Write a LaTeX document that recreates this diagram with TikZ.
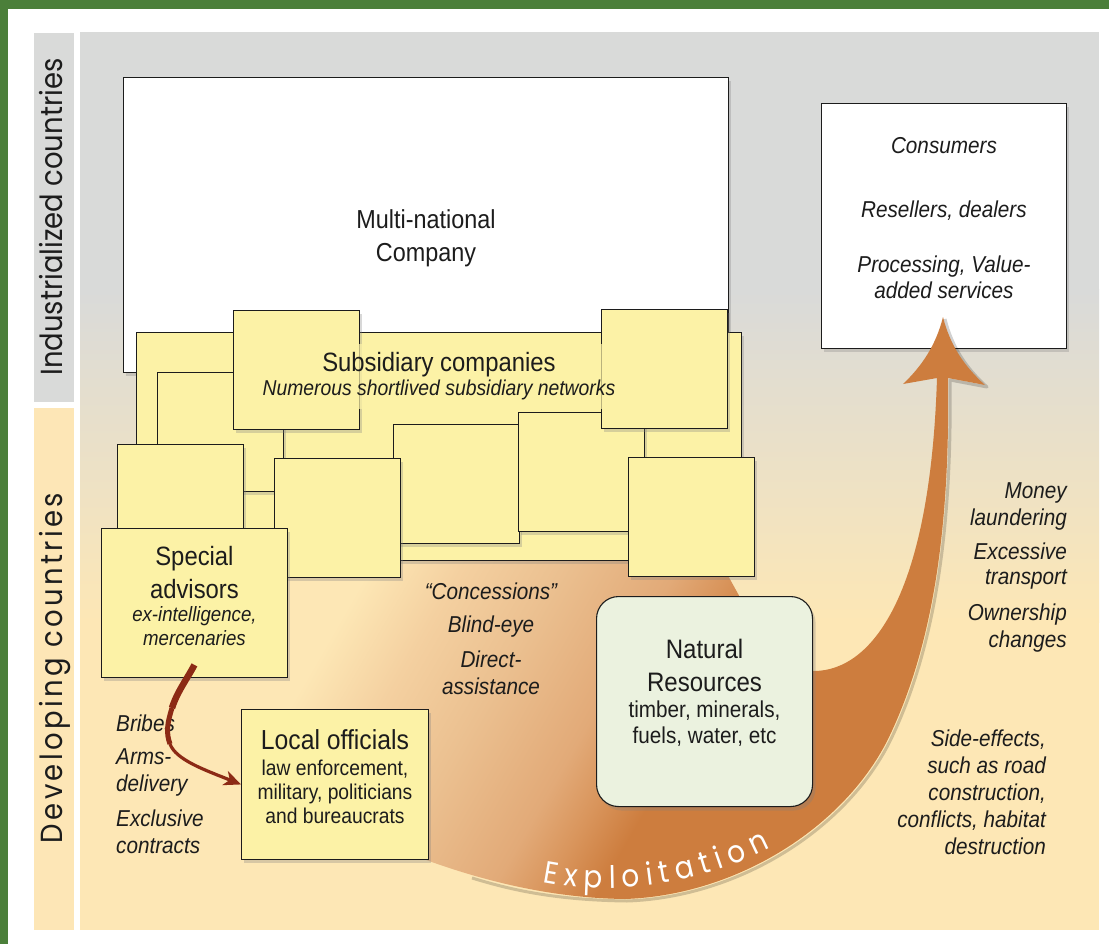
\documentclass[tikz,border=0pt]{standalone}
\usepackage{fontspec}
\setmainfont{Liberation Sans}[FakeStretch=0.9]
\newfontfamily\bandfont{Poppins}[FakeStretch=0.9]
\newfontfamily\bandfontspaced{Poppins}[FakeStretch=0.9,LetterSpace=11]
\usetikzlibrary{arrows.meta, shadows, decorations.text}
\definecolor{FrameGreen}{HTML}{4B7F3A}
\definecolor{Mist}{HTML}{D9DAD9}
\definecolor{Sand}{HTML}{FDE7B5}
\definecolor{BandSand}{HTML}{FDE6B6}
\definecolor{Straw}{HTML}{FCF2A6}
\definecolor{Mint}{HTML}{EBF2DF}
\definecolor{Copper}{HTML}{CD7D3E}
\definecolor{PeachA}{HTML}{F4D0A0}
\definecolor{PeachB}{HTML}{EBC090}
\definecolor{PeachC}{HTML}{E2AA78}
\definecolor{PeachD}{HTML}{D9955C}
\definecolor{Oxblood}{HTML}{8C2A15}
\definecolor{Ink}{HTML}{1C1C1C}
\pgfdeclarehorizontalshading{exploitfade}{100bp}{color(0bp)=(Sand); color(32bp)=(Sand); color(38bp)=(PeachA); color(44.5bp)=(PeachB); color(52bp)=(PeachC); color(55.5bp)=(PeachD); color(59bp)=(Copper); color(100bp)=(Copper)}
\begin{document}
\begin{tikzpicture}[x=1pt,y=-1pt,every node/.style={text=Ink},companybox/.style={draw=Ink,fill=white,line width=0.9pt,anchor=north west,drop shadow={shadow xshift=3pt,shadow yshift=-4pt,opacity=.3}},subbox/.style={companybox,fill=Straw},cellbox/.style={subbox,minimum width=126pt,minimum height=119pt},resourcebox/.style={companybox,fill=Mint,rounded corners=22pt,line width=1.1pt},boxtext/.style={align=center,inner sep=0pt},notetext/.style={font=\itshape\fontsize{23}{27}\selectfont,inner sep=0pt},bandtext/.style={rotate=90,anchor=base,inner sep=0pt},bribearrow/.style={draw=Oxblood},swooshshadow/.style={draw=black,opacity=.18,line width=3pt,line join=round,xshift=2pt,yshift=-2pt}]
\useasboundingbox (0,0) rectangle (1109,944);
\fill[white] (0,0) rectangle (1109,944);
\fill[FrameGreen] (0,0) rectangle (1109,9);
\fill[FrameGreen] (0,0) rectangle (8,944);
% side bands
\fill[Mist] (34,33) rectangle (74,402);
\fill[BandSand] (34,408) rectangle (74,930);
\node[bandtext,font=\bandfont\fontsize{30.5}{30.5}\selectfont] (industrial) at (62,217) {Industrialized countries};
\node[bandtext,font=\bandfontspaced\fontsize{30.5}{30.5}\selectfont] (developing) at (62,668) {Developing countries};
% main panel
\fill[Mist] (80,32) rectangle (1099,292);
\shade[top color=Mist,bottom color=Sand] (80,290) rectangle (1099,622);
\fill[Sand] (80,620) rectangle (1099,930);
% top row
\node[companybox,minimum width=605pt,minimum height=295pt] (mnc) at (123,77) {};
\node[companybox,minimum width=245pt,minimum height=245pt] (cons) at (821,103) {};
% exploitation swoosh
\draw[swooshshadow] (943,317) .. controls (950,345) and (964,366) .. (985,385) -- (948,378) .. controls (950,520) and (935,640) .. (890,735) .. controls (848,824) and (740,895) .. (625,899) .. controls (545,898) and (500,885) .. (470,876);
\shade[shading=exploitfade,shading angle=-30] (937,378) -- (903,384) .. controls (922,366) and (936,345) .. (943,317) .. controls (950,345) and (964,366) .. (985,385) -- (948,378) .. controls (950,520) and (935,640) .. (890,735) .. controls (848,824) and (740,895) .. (625,899) .. controls (545,898) and (470,878) .. (400,850) .. controls (330,820) and (280,760) .. (262,712) -- (262,540) -- (710,545) .. controls (745,600) and (770,672) .. (815,671) .. controls (870,670) and (930,600) .. (937,378) -- cycle;
% subsidiaries
\node[subbox,minimum width=605pt,minimum height=228pt] (subs) at (136,332) {};
\foreach \cellname/\cx/\cy in {c3/157/372,c1/233/310,c4/117/444,c6/393/424,c5/274/458,c7/518/412,c2/601/309,c8/628/457}
  \node[cellbox] (\cellname) at (\cx,\cy) {};
\node[subbox,minimum width=186pt,minimum height=149pt] (spec) at (101,528) {};
\node[subbox,minimum width=187pt,minimum height=150pt] (lo) at (241,709) {};
\node[resourcebox,minimum width=216pt,minimum height=210pt] (nr) at (596,596) {};
% box texts
\node[boxtext,font=\fontsize{26}{33}\selectfont] (mnctext) at ([yshift=-13pt]mnc.center) {Multi-national\\Company};
\node[boxtext,font=\itshape\fontsize{23}{26}\selectfont] (constext) at ([yshift=7.5pt]cons.center) {Consumers\\[38pt]Resellers, dealers\\[29pt]Processing, Value-\\added services};
\node[boxtext,font=\fontsize{26.5}{24}\selectfont,fill=Straw,fill opacity=.7,text opacity=1,inner xsep=3pt,inner ysep=9pt] (substext) at ([yshift=70pt]subs.center) {Subsidiary companies\\{\itshape\fontsize{21.5}{24}\selectfont Numerous shortlived subsidiary networks}};
\node[boxtext,font=\fontsize{26.5}{33}\selectfont] (spectext) at ([yshift=7pt]spec.center) {Special\\advisors\\[-10pt]{\itshape\fontsize{20.7}{24}\selectfont ex-intelligence,}\\[-9pt]{\itshape\fontsize{20.7}{24}\selectfont mercenaries}};
\node[boxtext,font=\fontsize{27.5}{26}\selectfont] (lotext) at ([yshift=8pt]lo.center) {Local officials\\{\fontsize{21.4}{24}\selectfont law enforcement,}\\[-2pt]{\fontsize{21.4}{24}\selectfont military, politicians}\\[-2pt]{\fontsize{21.4}{24}\selectfont and bureaucrats}};
\node[boxtext,font=\fontsize{26.7}{33}\selectfont] (nrtext) at ([yshift=9pt]nr.center) {Natural\\Resources\\[-7pt]{\fontsize{23}{26}\selectfont timber, minerals,}\\[-7pt]{\fontsize{23}{26}\selectfont fuels, water, etc}};
% free notes
\node[notetext,align=center] (favours) at (491,639) {“Concessions”\\[6pt]Blind-eye\\[8pt]Direct-\\assistance};
\node[notetext,align=left,anchor=west] (bribes) at (116,784) {Bribes\\[6pt]Arms-\\delivery\\[8pt]Exclusive\\contracts};
\node[notetext,align=right,anchor=east] (laundering) at (1067,567.5) {Money\\laundering\\[7pt]Excessive\\[-2pt]transport\\[9pt]Ownership\\changes};
\node[notetext,align=right,anchor=east] (sideeffects) at (1046,792) {Side-effects,\\such as road\\construction,\\conflicts, habitat\\destruction};
\path[decorate,decoration={text along path,text={|\bandfont\fontsize{31}{31}\selectfont|Exploitation},text color=white,text align=fit to path}] (543,882) .. controls (625,898) and (705,881) .. (770,848);
% bribes arrow
\coordinate (bribestart) at ([yshift=13pt]spec.south);
\coordinate (bribebend) at (172,708);
\coordinate (bribelow) at (170,744);
\draw[bribearrow,line width=6.5pt] (bribestart) .. controls (187,679) and (177,692) .. (bribebend);
\draw[bribearrow,line width=5pt] (bribebend) .. controls (167,724) and (166,733) .. (bribelow);
\draw[bribearrow,line width=3.2pt,-{Stealth[length=17pt,width=15pt,inset=5pt]}] (bribelow) .. controls (176,760) and (205,770) .. (lo.west);
\end{tikzpicture}
\end{document}
